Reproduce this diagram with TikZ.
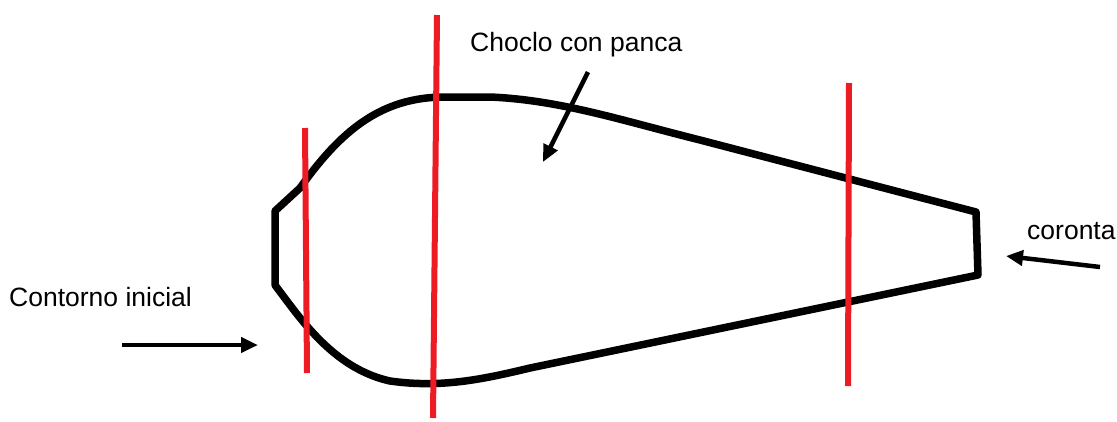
\documentclass[tikz,border=0pt]{standalone}
\usepackage{fontspec}
\setmainfont{Liberation Sans}
\usetikzlibrary{arrows.meta}
\definecolor{paintred}{HTML}{ED1C24}

\begin{document}
\begin{tikzpicture}[x=1pt, y=-1pt, font=\fontsize{26.5}{31}\selectfont]
  \useasboundingbox (0,0) rectangle (1117,421);
  % ear outline
  \draw[line width=7.5, line join=round]
    (275,285) -- (275,211) -- (300,188)
    .. controls (340,132) and (380,97) .. (445,97) -- (490,97)
    .. controls (560,100) and (620,120) .. (700,140) -- (976,212)
    -- (978,275) -- (530,368)
    .. controls (480,380) and (440,388) .. (390,381)
    .. controls (350,372) and (320,345) .. (290,305) -- cycle;
  % cuts
  \draw[paintred, line width=6] (305,128) -- (307,373);
  \draw[paintred, line width=6] (437,15) -- (433,418);
  \draw[paintred, line width=6] (849,83) -- (848,386);
  % labels
  \node[anchor=west, inner sep=0] (contorno) at (9,297) {Contorno inicial};
  \node[anchor=west, inner sep=0] (choclo) at (470,45) {Choclo con panca};
  \node[anchor=west, inner sep=0] (coronta) at (1027,231) {coronta};
  \coordinate (contornoA) at (122,345);
  \coordinate (contornoB) at (258,345);
  \coordinate (chocloA) at (588,72);
  \coordinate (chocloB) at (543,162);
  \coordinate (corontaA) at (1100,267);
  \coordinate (corontaB) at (1006,256);
  \draw[line width=4.5, -{Triangle[length=17, width=15]}] (contornoA) -- (contornoB);
  \draw[line width=4.5, -{Triangle[length=17, width=15]}] (chocloA) -- (chocloB);
  \draw[line width=4.5, -{Triangle[length=17, width=15]}] (corontaA) -- (corontaB);
\end{tikzpicture}
\end{document}
